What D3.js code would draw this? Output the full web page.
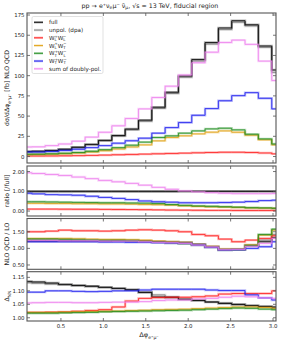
<!DOCTYPE html>
<html>
<head>
<meta charset="utf-8">
<script src="https://cdn.jsdelivr.net/npm/d3@7"></script>
<style>
  body { margin: 0; background: #fff; }
  text { font-family: "DejaVu Sans", sans-serif; fill: #222; }
</style>
</head>
<body>
<div id="chart"></div>
<script>
// bin edges in delta-phi (20 bins of pi/20)
const edges = [0.000, 0.157, 0.314, 0.471, 0.628, 0.785, 0.942, 1.100, 1.257, 1.414,
               1.571, 1.728, 1.885, 2.042, 2.199, 2.356, 2.513, 2.670, 2.827, 2.985, 3.142];

const seriesNames = ['full', 'unpol. (dpa)', 'LL', 'LT', 'TL', 'TT', 'sum of doubly-pol.'];
const seriesColors = ['#000000', '#808080', '#ff1a1a', '#e0a010', '#1a8a1a', '#1a1aee', '#ee82ee'];

// main panel: d sigma / d dphi [fb]
const mainFull  = [6.2, 6.5, 7.5, 9.0, 11.5, 15, 20, 26, 34, 45, 61, 79.5, 99.6, 120, 141, 159, 168, 163, 136.7, 107];
const mainUnpol = [6.0, 6.3, 7.3, 8.8, 11.2, 14.6, 19.5, 25.3, 33, 43.5, 59.5, 78, 98, 118, 139, 157, 166, 161.5, 135, 104];
const mainLL    = [0.6, 0.65, 0.75, 0.9, 1.1, 1.4, 1.8, 2.2, 2.6, 3.0, 3.4, 3.8, 4.2, 4.6, 5.0, 5.3, 5.3, 5.0, 4.4, 3.3];
const mainLT    = [2.4, 2.5, 2.9, 3.5, 4.4, 5.6, 7.2, 9.3, 11.8, 14.4, 19.4, 23.5, 25.6, 28, 30.1, 31.7, 30, 26.4, 20.6, 14.4];
const mainTL    = [2.9, 3.0, 3.4, 4.0, 5.0, 6.5, 8.5, 11, 14, 17.8, 23.5, 25.6, 28.9, 31.7, 34.2, 35, 33, 27.6, 21.8, 15.5];
const mainTT    = [5.6, 5.6, 6.2, 7.5, 9.0, 11, 13.5, 16.5, 19.5, 22.7, 28.9, 35.8, 42, 51, 59.3, 69, 75.3, 79, 72, 58.9];
const mainSum   = [11.8, 12, 13.5, 15.5, 19, 24, 30, 38, 47, 58.9, 73, 87, 100.8, 116, 129, 141, 144, 138.7, 118, 94];

// ratio to full
const ratioFull  = [1, 1, 1, 1, 1, 1, 1, 1, 1, 1, 1, 1, 1, 1, 1, 1, 1, 1, 1, 1];
const ratioUnpol = [0.98, 0.98, 0.98, 0.98, 0.98, 0.98, 0.98, 0.98, 0.98, 0.98, 0.98, 0.98, 0.99, 0.99, 0.99, 0.99, 0.99, 0.99, 0.99, 0.98];
const ratioLL    = [0.1, 0.1, 0.1, 0.095, 0.09, 0.09, 0.085, 0.08, 0.075, 0.07, 0.06, 0.05, 0.045, 0.04, 0.035, 0.035, 0.03, 0.03, 0.03, 0.03];
const ratioLT    = [0.39, 0.39, 0.38, 0.38, 0.37, 0.37, 0.36, 0.36, 0.35, 0.33, 0.32, 0.3, 0.26, 0.23, 0.21, 0.2, 0.18, 0.16, 0.15, 0.14];
const ratioTL    = [0.47, 0.47, 0.46, 0.45, 0.44, 0.43, 0.42, 0.42, 0.41, 0.4, 0.38, 0.33, 0.29, 0.26, 0.24, 0.22, 0.2, 0.17, 0.16, 0.14];
const ratioTT    = [0.9, 0.87, 0.83, 0.82, 0.8, 0.75, 0.69, 0.64, 0.58, 0.51, 0.47, 0.45, 0.42, 0.42, 0.42, 0.43, 0.45, 0.48, 0.53, 0.55];
const ratioSum   = [1.94, 1.9, 1.85, 1.8, 1.72, 1.64, 1.55, 1.48, 1.4, 1.31, 1.2, 1.1, 1.02, 0.97, 0.93, 0.9, 0.88, 0.88, 0.88, 0.89];

// NLO QCD / LO
const nloFull  = [1.22, 1.22, 1.22, 1.22, 1.22, 1.22, 1.22, 1.23, 1.23, 1.22, 1.2, 1.19, 1.18, 1.12, 1.05, 0.96, 0.97, 1.08, 1.2, 1.32];
const nloUnpol = [1.25, 1.25, 1.25, 1.24, 1.24, 1.24, 1.24, 1.24, 1.23, 1.22, 1.2, 1.18, 1.16, 1.12, 1.05, 0.97, 0.97, 1.1, 1.25, 1.42];
const nloLL    = [1.5, 1.5, 1.52, 1.55, 1.53, 1.53, 1.52, 1.53, 1.55, 1.56, 1.55, 1.53, 1.5, 1.42, 1.38, 1.28, 1.2, 1.25, 1.3, 1.38];
const nloLT    = [1.3, 1.3, 1.3, 1.3, 1.29, 1.28, 1.27, 1.27, 1.26, 1.25, 1.22, 1.2, 1.18, 1.12, 1.06, 0.98, 0.98, 1.1, 1.4, 1.55];
const nloTL    = [1.28, 1.28, 1.28, 1.27, 1.26, 1.25, 1.24, 1.24, 1.23, 1.2, 1.18, 1.16, 1.14, 1.1, 1.03, 0.95, 0.96, 1.08, 1.42, 1.58];
const nloTT    = [1.2, 1.2, 1.2, 1.2, 1.2, 1.2, 1.19, 1.19, 1.18, 1.18, 1.17, 1.16, 1.15, 1.1, 1.03, 0.95, 0.96, 1.0, 1.05, 1.2];
const nloSum   = [1.24, 1.24, 1.24, 1.23, 1.23, 1.23, 1.22, 1.22, 1.22, 1.2, 1.18, 1.17, 1.15, 1.1, 1.04, 0.96, 0.97, 1.06, 1.15, 1.3];

// Delta_NN panel
const dFull  = [1.135, 1.133, 1.129, 1.124, 1.12, 1.117, 1.113, 1.109, 1.104, 1.094, 1.077, 1.075, 1.068, 1.064, 1.058, 1.053, 1.049, 1.045, 1.042, 1.04];
const dUnpol = [1.13, 1.128, 1.125, 1.122, 1.12, 1.117, 1.113, 1.109, 1.104, 1.095, 1.085, 1.078, 1.07, 1.065, 1.06, 1.055, 1.05, 1.046, 1.042, 1.036];
const dLL    = [1.02, 1.02, 1.021, 1.022, 1.024, 1.027, 1.03, 1.04, 1.062, 1.072, 1.075, 1.076, 1.076, 1.078, 1.081, 1.088, 1.09, 1.09, 1.09, 1.1];
const dLT    = [1.02, 1.02, 1.02, 1.021, 1.022, 1.023, 1.024, 1.025, 1.027, 1.028, 1.03, 1.031, 1.032, 1.034, 1.036, 1.038, 1.04, 1.04, 1.038, 1.035];
const dTL    = [1.017, 1.017, 1.017, 1.018, 1.019, 1.02, 1.022, 1.023, 1.024, 1.025, 1.026, 1.027, 1.028, 1.03, 1.032, 1.034, 1.036, 1.035, 1.032, 1.03];
const dTT    = [1.095, 1.095, 1.1, 1.1, 1.098, 1.097, 1.098, 1.1, 1.1, 1.103, 1.106, 1.106, 1.106, 1.106, 1.103, 1.101, 1.101, 1.085, 1.074, 1.066];
const dSum   = [1.055, 1.056, 1.057, 1.057, 1.056, 1.056, 1.057, 1.058, 1.058, 1.06, 1.064, 1.066, 1.066, 1.07, 1.072, 1.076, 1.08, 1.078, 1.074, 1.072];

const xTicks = [0.5, 1.0, 1.5, 2.0, 2.5, 3.0];

const W = 288, H = 342;
const svg = d3.select('#chart').append('svg').attr('width', W).attr('height', H);

const x = d3.scaleLinear().domain([0.1, 3.035]).range([27, 276]);

const panels = [
  { id: 'main',  top: 13,    bottom: 163,   domain: [-8, 177.5],    ticks: [0, 25, 50, 75, 100, 125, 150, 175], fmt: d3.format('d'),
    data: [mainUnpol, mainFull, mainLL, mainLT, mainTL, mainTT, mainSum] },
  { id: 'ratio', top: 166,   bottom: 216,   domain: [-0.25, 2.28],  ticks: [0, 1, 2], fmt: d3.format('.2f'),
    data: [ratioUnpol, ratioFull, ratioLL, ratioLT, ratioTL, ratioTT, ratioSum] },
  { id: 'nlo',   top: 218.5, bottom: 269.3, domain: [0.37, 1.9],    ticks: [0.5, 1.0, 1.5], fmt: d3.format('.2f'),
    data: [nloUnpol, nloFull, nloLL, nloLT, nloTL, nloTT, nloSum] },
  { id: 'delta', top: 271.7, bottom: 321,   domain: [0.988, 1.171], ticks: [1.0, 1.05, 1.10, 1.15], fmt: d3.format('.2f'),
    data: [dUnpol, dFull, dLL, dLT, dTL, dTT, dSum] }
];
// draw order index -> colour index
const drawColor = [1, 0, 2, 3, 4, 5, 6];

const defs = svg.append('defs');

panels.forEach((p, pi) => {
  const y = d3.scaleLinear().domain(p.domain).range([p.bottom, p.top]);
  const [x0, x1] = x.range();

  defs.append('clipPath').attr('id', 'clip-' + p.id)
    .append('rect').attr('x', x0).attr('y', p.top).attr('width', x1 - x0).attr('height', p.bottom - p.top);

  const g = svg.append('g').attr('clip-path', `url(#clip-${p.id})`);

  const line = d3.line()
    .x(d => x(d[0]))
    .y(d => y(d[1]))
    .curve(d3.curveStepAfter);

  p.data.forEach((vals, si) => {
    const pts = vals.map((v, i) => [edges[i], v]);
    pts.push([edges[edges.length - 1], vals[vals.length - 1]]);
    const col = seriesColors[drawColor[si]];
    g.append('path').attr('d', line(pts))
      .attr('fill', 'none').attr('stroke', col)
      .attr('stroke-opacity', 0.3).attr('stroke-width', 2.4);
    g.append('path').attr('d', line(pts))
      .attr('fill', 'none').attr('stroke', col)
      .attr('stroke-width', 0.8);
  });

  // frame
  svg.append('rect').attr('x', x0).attr('y', p.top)
    .attr('width', x1 - x0).attr('height', p.bottom - p.top)
    .attr('fill', 'none').attr('stroke', '#555').attr('stroke-width', 1.1);

  // inward ticks on all four sides
  const tk = svg.append('g').attr('stroke', '#555').attr('stroke-width', 0.8);
  xTicks.forEach(t => {
    tk.append('line').attr('x1', x(t)).attr('x2', x(t)).attr('y1', p.bottom).attr('y2', p.bottom - 3);
    tk.append('line').attr('x1', x(t)).attr('x2', x(t)).attr('y1', p.top).attr('y2', p.top + 3);
  });
  p.ticks.forEach(t => {
    tk.append('line').attr('x1', x0).attr('x2', x0 + 3).attr('y1', y(t)).attr('y2', y(t));
    tk.append('line').attr('x1', x1).attr('x2', x1 - 3).attr('y1', y(t)).attr('y2', y(t));
    svg.append('text').attr('x', x0 - 2.5).attr('y', y(t) + 2)
      .attr('text-anchor', 'end').attr('font-size', 5.4).text(p.fmt(t));
  });

  if (pi === panels.length - 1) {
    xTicks.forEach(t => {
      svg.append('text').attr('x', x(t)).attr('y', p.bottom + 7)
        .attr('text-anchor', 'middle').attr('font-size', 5.4).text(d3.format('.1f')(t));
    });
  }
});

// title
const title = svg.append('text').attr('x', 150).attr('y', 7.5)
  .attr('text-anchor', 'middle').attr('font-size', 6.3);
title.append('tspan').text('pp \u2192 e\u207A\u03BD');
title.append('tspan').attr('dy', 1.5).attr('font-size', 4.5).text('e');
title.append('tspan').attr('dy', -1.5).text('\u03BC\u207B \u03BD\u0304');
title.append('tspan').attr('dy', 1.5).attr('font-size', 4.5).text('\u03BC');
title.append('tspan').attr('dy', -1.5).text(', \u221As = 13 TeV, fiducial region');

// y labels
function yLabel(cy, build) {
  const t = svg.append('text')
    .attr('transform', `translate(9,${cy}) rotate(-90)`)
    .attr('text-anchor', 'middle').attr('font-size', 6.2);
  build(t);
}
yLabel(88, t => {
  t.append('tspan').text('d\u03C3/d\u0394\u03C6');
  t.append('tspan').attr('dy', 1.6).attr('font-size', 4.4).text('e\u207A\u03BC\u207B');
  t.append('tspan').attr('dy', -1.6).text(' [fb] NLO QCD');
});
yLabel(191, t => t.text('ratio [/full]'));
yLabel(244, t => t.text('NLO QCD / LO'));
yLabel(296, t => {
  t.append('tspan').text('\u0394');
  t.append('tspan').attr('dy', 1.6).attr('font-size', 4.4).text('NN');
});

// x label
const xl = svg.append('text').attr('x', 149).attr('y', 337)
  .attr('text-anchor', 'middle').attr('font-size', 6.6);
xl.append('tspan').text('\u0394\u03C6');
xl.append('tspan').attr('dy', 1.6).attr('font-size', 4.6).text('e\u207A\u03BC\u207B');

// legend
const legend = svg.append('g');
legend.append('rect').attr('x', 32).attr('y', 16.5).attr('width', 71).attr('height', 57)
  .attr('rx', 1.5).attr('fill', '#fff').attr('fill-opacity', 0.85)
  .attr('stroke', '#ccc').attr('stroke-width', 0.6);

const legendRows = [
  { c: 0, parts: [['full']] },
  { c: 1, parts: [['unpol. (dpa)']] },
  { c: 2, parts: [['W'], ['L', 'sub'], ['+', 'sup'], ['W'], ['L', 'sub'], ['\u2212', 'sup']] },
  { c: 3, parts: [['W'], ['L', 'sub'], ['+', 'sup'], ['W'], ['T', 'sub'], ['\u2212', 'sup']] },
  { c: 4, parts: [['W'], ['T', 'sub'], ['+', 'sup'], ['W'], ['L', 'sub'], ['\u2212', 'sup']] },
  { c: 5, parts: [['W'], ['T', 'sub'], ['+', 'sup'], ['W'], ['T', 'sub'], ['\u2212', 'sup']] },
  { c: 6, parts: [['sum of doubly-pol.']] }
];
legendRows.forEach((r, i) => {
  const ly = 22.3 + i * 7.75;
  const col = seriesColors[r.c];
  legend.append('line').attr('x1', 34).attr('x2', 43).attr('y1', ly).attr('y2', ly)
    .attr('stroke', col).attr('stroke-opacity', 0.3).attr('stroke-width', 2.4);
  legend.append('line').attr('x1', 34).attr('x2', 43).attr('y1', ly).attr('y2', ly)
    .attr('stroke', col).attr('stroke-width', 0.9);
  const t = legend.append('text').attr('x', 49).attr('y', ly + 2).attr('font-size', 5.6);
  let shift = 0;
  r.parts.forEach(([s, kind]) => {
    const want = kind === 'sub' ? 1.3 : kind === 'sup' ? -2.2 : 0;
    const ts = t.append('tspan').attr('dy', want - shift).text(s);
    if (kind) ts.attr('font-size', 3.8);
    if (kind === 'sup') ts.attr('dx', -2.2);
    shift = want;
  });
});
</script>
</body>
</html>
